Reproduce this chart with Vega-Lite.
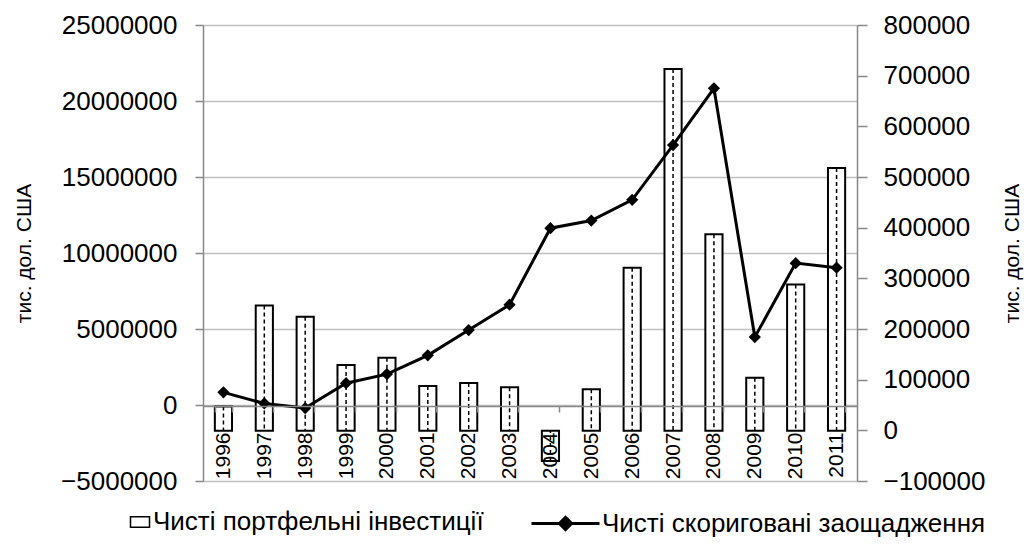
{
  "$schema": "https://vega.github.io/schema/vega-lite/v6.json",
  "width": 654,
  "height": 456,
  "autosize": {"type": "none"},
  "padding": {"left": 203, "top": 25, "right": 178, "bottom": 67},
  "config": {
    "font": "Liberation Sans",
    "view": {"stroke": null},
    "axis": {"labelFlush": false, "labelOverlap": false, "labelColor": "black", "titleColor": "black", "titleFontWeight": "normal"}
  },
  "data": {
    "values": [
      {"year": "1996", "invest": -100000, "savings": 75000},
      {"year": "1997", "invest": 6550000, "savings": 53000},
      {"year": "1998", "invest": 5810000, "savings": 44000},
      {"year": "1999", "invest": 2630000, "savings": 93000},
      {"year": "2000", "invest": 3110000, "savings": 111000},
      {"year": "2001", "invest": 1250000, "savings": 148000},
      {"year": "2002", "invest": 1450000, "savings": 198000},
      {"year": "2003", "invest": 1160000, "savings": 248000},
      {"year": "2004", "invest": -3680000, "savings": 399000},
      {"year": "2005", "invest": 1030000, "savings": 414000},
      {"year": "2006", "invest": 9030000, "savings": 455000},
      {"year": "2007", "invest": 22100000, "savings": 563000},
      {"year": "2008", "invest": 11240000, "savings": 675000},
      {"year": "2009", "invest": 1800000, "savings": 184000},
      {"year": "2010", "invest": 7930000, "savings": 330000},
      {"year": "2011", "invest": 15600000, "savings": 321000}
    ]
  },
  "resolve": {"scale": {"y": "independent"}},
  "layer": [
    {
      "layer": [
        {
          "mark": {"type": "bar", "stroke": "black", "strokeWidth": 2},
          "encoding": {
            "x": {
              "field": "year", "type": "ordinal",
              "scale": {"paddingInner": 0.58, "paddingOuter": 0.29},
              "axis": {"orient": "bottom", "offset": -75, "zindex": 1, "labelAngle": 270, "labelFontSize": 21, "labelPadding": 20, "tickSize": 6, "tickColor": "#888", "domainColor": "#888", "domainWidth": 1.5, "tickWidth": 1.5, "tickBand": "extent", "title": null, "grid": false}
            },
            "y": {
              "field": "invest", "type": "quantitative",
              "scale": {"domain": [-5000000, 25000000], "nice": false, "zero": false},
              "axis": {"orient": "left", "values": [-5000000, 0, 5000000, 10000000, 15000000, 20000000, 25000000], "format": "d", "labelFontSize": 26, "labelPadding": 18, "tickSize": 8, "tickColor": "#888", "tickWidth": 1.5, "domainColor": "#888", "domainWidth": 1.5, "grid": true, "gridColor": "#c0c0c0", "gridWidth": 1.5, "title": "тис. дол. США", "titleFontSize": 21, "titlePadding": 26}
            },
            "y2": {"datum": -1700000},
            "fill": {
              "datum": "Чисті портфельні інвестиції",
              "scale": {"range": ["white"]},
              "legend": {"orient": "none", "legendX": -76, "legendY": 484, "title": null, "labelFontSize": 26, "labelLimit": 0, "labelColor": "black", "symbolType": "M-1,-0.55H1V0.55H-1Z", "symbolSize": 361, "symbolStrokeColor": "black", "symbolStrokeWidth": 1.5, "labelOffset": 0}
            }
          }
        },
        {
          "mark": {"type": "rule", "color": "black", "strokeWidth": 1.5, "strokeDash": [4, 3]},
          "encoding": {
            "x": {"field": "year", "type": "ordinal"},
            "y": {"field": "invest", "type": "quantitative"},
            "y2": {"datum": -1700000}
          }
        }
      ]
    },
    {
      "layer": [
        {
          "mark": {"type": "line", "strokeWidth": 3},
          "encoding": {
            "x": {"field": "year", "type": "ordinal"},
            "y": {
              "field": "savings", "type": "quantitative",
              "scale": {"domain": [-100000, 800000], "nice": false, "zero": false},
              "axis": {"orient": "right", "values": [-100000, 0, 100000, 200000, 300000, 400000, 500000, 600000, 700000, 800000], "format": "d", "labelFontSize": 26, "labelPadding": 16, "tickSize": 10, "tickColor": "#888", "tickWidth": 1.5, "domainColor": "#888", "domainWidth": 1.5, "grid": false, "title": "тис. дол. США", "titleFontSize": 21, "titleAngle": 270, "titlePadding": 38}
            },
            "stroke": {
              "datum": "Чисті скориговані заощадження",
              "scale": {"range": ["black"]},
              "legend": {"orient": "none", "legendX": 327, "legendY": 463, "title": null, "labelFontSize": 26, "labelLimit": 0, "labelColor": "black", "symbolType": "M-1,0H1M0,-0.18L0.18,0L0,0.18L-0.18,0Z", "symbolSize": 4624, "symbolStrokeColor": "black", "symbolFillColor": "black", "symbolStrokeWidth": 3, "labelOffset": 1}
            }
          }
        },
        {
          "mark": {"type": "point", "shape": "diamond", "filled": true, "size": 150, "color": "black", "opacity": 1},
          "encoding": {
            "x": {"field": "year", "type": "ordinal"},
            "y": {"field": "savings", "type": "quantitative"}
          }
        }
      ]
    }
  ]
}
